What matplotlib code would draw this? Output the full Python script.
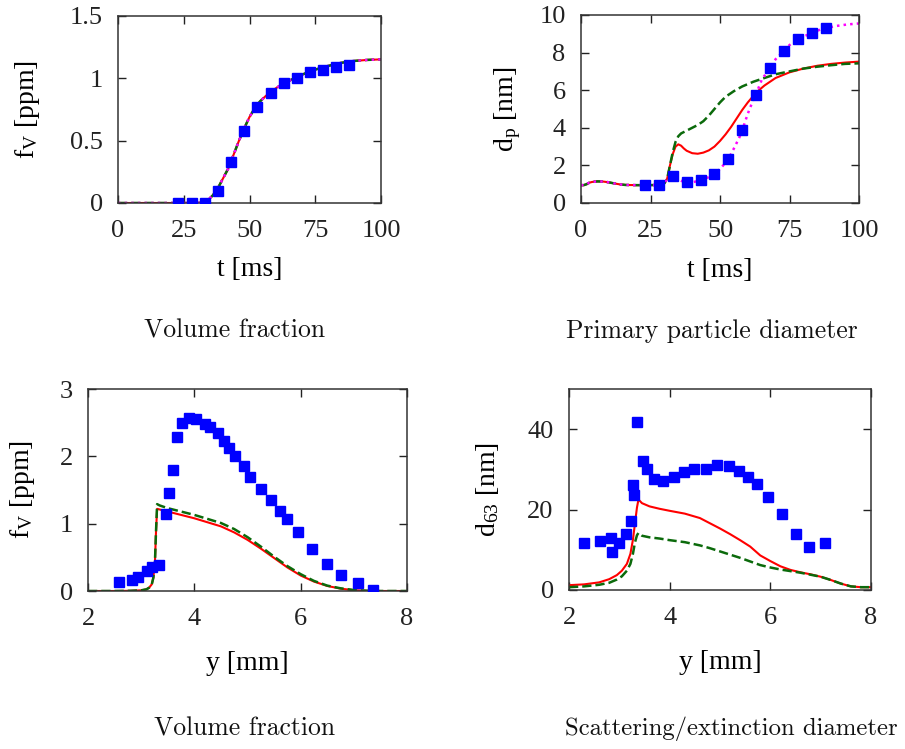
import numpy as np
import matplotlib
matplotlib.use("Agg")
import matplotlib.pyplot as plt

plt.rcParams['font.family'] = ['Liberation Serif', 'DejaVu Serif']
plt.rcParams['mathtext.fontset'] = 'custom'
plt.rcParams['mathtext.rm'] = 'Liberation Serif'
plt.rcParams['mathtext.it'] = 'Liberation Serif:italic'

RED = '#ff0000'
GREEN = '#0b6a0b'
MAGENTA = '#ff00ff'
BLUE = '#0000ff'

# --- volume fraction vs residence time ---
t_exp = [23, 28, 33, 38, 43, 48, 53, 58, 63, 68, 73, 78, 83, 88]
fv_t_exp = [0.0, 0.0, 0.0, 0.1, 0.33, 0.58, 0.77, 0.88, 0.96, 1.0, 1.05, 1.07, 1.09, 1.105]
t_fv_model = [0, 10, 20, 30, 32, 34, 36, 38, 40, 42, 44, 46, 48, 50, 52, 54, 56, 58,
              60, 63, 66, 70, 75, 80, 85, 90, 95, 100]
fv_t_model = [0, 0, 0, 0, 0.003, 0.02, 0.06, 0.12, 0.2, 0.28, 0.39, 0.5, 0.6, 0.69,
              0.76, 0.815, 0.855, 0.89, 0.92, 0.96, 0.99, 1.03, 1.07, 1.10, 1.125,
              1.14, 1.148, 1.152]

# --- primary particle diameter vs residence time ---
dp_exp = [0.95, 0.95, 1.45, 1.1, 1.2, 1.53, 2.33, 3.87, 5.77, 7.19, 8.08, 8.7, 9.02, 9.29]
t_early = [0, 1, 2, 3, 4, 6, 8, 10, 12, 14, 16, 20, 24, 28, 30, 31]
dp_early = [0.95, 0.95, 1.0, 1.08, 1.12, 1.15, 1.14, 1.1, 1.04, 0.99, 0.96, 0.95,
            0.95, 0.96, 1.05, 1.3]
t_dp_green = [32, 33, 34, 35, 36, 38, 40, 42, 44, 46, 48, 50, 52, 55, 58, 62, 66, 70,
              75, 80, 85, 90, 95, 100]
dp_green = [2.0, 2.7, 3.25, 3.55, 3.7, 3.85, 4.0, 4.15, 4.35, 4.65, 5.0, 5.35, 5.65,
            5.95, 6.2, 6.45, 6.65, 6.85, 7.0, 7.15, 7.25, 7.33, 7.4, 7.43]
t_dp_red = [32, 33, 34, 35, 36, 37, 38, 40, 42, 44, 46, 48, 50, 52, 54, 56, 58, 60,
            62, 64, 66, 70, 75, 80, 85, 90, 95, 100]
dp_red = [2.0, 2.6, 3.0, 3.12, 3.05, 2.9, 2.78, 2.65, 2.62, 2.68, 2.8, 3.0, 3.3, 3.65,
          4.05, 4.5, 4.95, 5.35, 5.7, 6.0, 6.25, 6.65, 6.95, 7.15, 7.3, 7.4, 7.47, 7.52]
t_dp_mag = [32, 33, 35, 37, 38, 40, 43, 46, 48, 50, 52, 53, 55, 57, 58, 60, 62, 63,
            65, 68, 70, 73, 75, 78, 80, 83, 86, 88, 92, 96, 100]
dp_mag = [1.42, 1.45, 1.25, 1.12, 1.1, 1.1, 1.2, 1.38, 1.55, 1.8, 2.15, 2.35, 2.9,
          3.5, 3.87, 4.75, 5.5, 5.8, 6.55, 7.2, 7.65, 8.1, 8.4, 8.72, 8.85, 9.04,
          9.22, 9.3, 9.42, 9.5, 9.55]

# --- volume fraction vs height ---
y_fv_exp = [2.58, 2.83, 2.94, 3.11, 3.21, 3.34, 3.47, 3.52, 3.59, 3.67, 3.76, 3.90,
            4.04, 4.21, 4.30, 4.45, 4.55, 4.66, 4.76, 4.93, 5.05, 5.26, 5.45, 5.61,
            5.74, 5.95, 6.22, 6.50, 6.76, 7.08, 7.36]
fv_y_exp = [0.14, 0.17, 0.21, 0.30, 0.35, 0.39, 1.14, 1.45, 1.80, 2.28, 2.50, 2.57,
            2.55, 2.48, 2.43, 2.34, 2.23, 2.13, 2.01, 1.85, 1.70, 1.51, 1.35, 1.19,
            1.07, 0.87, 0.62, 0.40, 0.24, 0.12, 0.015]
y_fv_model = [2.0, 2.5, 2.8, 3.0, 3.1, 3.15, 3.2, 3.23, 3.26, 3.28, 3.3, 3.35, 3.5,
              3.75, 4.0, 4.25, 4.5, 4.75, 5.0, 5.25, 5.5, 5.75, 6.0, 6.25, 6.5, 6.75,
              7.0, 7.25, 7.5, 8.0]
fv_y_red = [0, 0, 0.003, 0.01, 0.025, 0.05, 0.1, 0.2, 0.45, 0.9, 1.22, 1.21, 1.18,
            1.13, 1.08, 1.02, 0.96, 0.87, 0.76, 0.63, 0.49, 0.35, 0.23, 0.14, 0.075,
            0.035, 0.012, 0.003, 0, 0]
fv_y_green = [0, 0, 0.003, 0.01, 0.025, 0.05, 0.1, 0.2, 0.45, 0.9, 1.29, 1.27, 1.23,
              1.18, 1.13, 1.07, 1.01, 0.92, 0.8, 0.66, 0.51, 0.37, 0.25, 0.15, 0.08,
              0.04, 0.015, 0.004, 0, 0]

# --- scattering/extinction diameter vs height ---
y_d63_exp = [2.29, 2.62, 2.83, 2.86, 2.99, 3.13, 3.23, 3.27, 3.29, 3.35, 3.48, 3.54,
             3.68, 3.86, 4.08, 4.29, 4.49, 4.73, 4.94, 5.17, 5.38, 5.55, 5.73, 5.96,
             6.24, 6.50, 6.77, 7.09]
d63_exp = [11.7, 12.1, 13.0, 9.4, 11.6, 13.9, 17.1, 26.2, 23.6, 41.9, 32.0, 30.0,
           27.5, 27.1, 28.1, 29.3, 30.2, 30.2, 31.1, 30.9, 29.6, 28.1, 26.4, 23.1,
           18.8, 13.9, 10.6, 11.6]
y_d63_model = [2.0, 2.3, 2.6, 2.8, 2.95, 3.05, 3.15, 3.22, 3.27, 3.31, 3.35, 3.38,
               3.45, 3.6, 3.8, 4.0, 4.3, 4.6, 4.8, 5.0, 5.2, 5.4, 5.6, 5.8, 6.0, 6.2,
               6.4, 6.6, 6.8, 7.0, 7.2, 7.4, 7.6, 7.8, 8.0]
d63_red = [1.2, 1.4, 1.9, 2.7, 3.7, 4.8, 6.5, 9.0, 12.5, 16.5, 20.5, 22.5, 21.6, 20.8,
           20.2, 19.7, 19.0, 17.9, 16.6, 15.3, 13.9, 12.4, 10.8, 8.6, 7.2, 5.9, 5.0,
           4.4, 3.9, 3.3, 2.5, 1.6, 0.9, 0.7, 0.7]
d63_green = [0.7, 0.9, 1.3, 1.8, 2.6, 3.4, 4.8, 6.5, 9.0, 11.8, 13.6, 14.2, 13.5,
             13.1, 12.8, 12.4, 11.9, 11.1, 10.4, 9.6, 8.8, 8.0, 7.1, 6.2, 5.6, 5.1,
             4.7, 4.3, 3.8, 3.3, 2.5, 1.6, 0.9, 0.7, 0.7]

W, H = 905, 749


def box(left, top, right, bottom):
    return [left / W, 1 - bottom / H, (right - left) / W, (bottom - top) / H]


def style(ax, xlab, ylab, xl_y, yl_x):
    ax.tick_params(direction='in', top=True, right=True, length=6, width=1,
                   labelsize=19, colors='#222222')
    ax.tick_params(axis='x', pad=12)
    ax.tick_params(axis='y', pad=11)
    for s in ax.spines.values():
        s.set_color('#333333')
        s.set_linewidth(1.1)
    ax.set_xlabel(xlab, fontsize=20)
    ax.set_ylabel(ylab, fontsize=20)
    ax.xaxis.set_label_coords(0.5, xl_y)
    ax.yaxis.set_label_coords(yl_x, 0.5)


def squares(ax, x, y):
    ax.plot(x, y, 's', color=BLUE, ms=6.5, mec=BLUE, zorder=5)


fig = plt.figure(figsize=(W / 100, H / 100), dpi=100)

ax1 = fig.add_axes(box(118, 16, 381, 203))
ax1.plot(t_fv_model, fv_t_model, '-', color=RED, lw=1.5)
ax1.plot(t_fv_model, fv_t_model, '--', color=GREEN, lw=1.8)
ax1.plot(t_fv_model, fv_t_model, ':', color=MAGENTA, lw=1.8)
squares(ax1, t_exp, fv_t_exp)
ax1.set_xlim(0, 100)
ax1.set_ylim(0, 1.5)
ax1.set_xticks([0, 25, 50, 75, 100])
ax1.set_yticks([0, 0.5, 1, 1.5])
ax1.set_yticklabels(['0', '0.5', '1', '1.5'])
style(ax1, 't [ms]', r'f$_\mathrm{V}$ [ppm]', -0.29, -0.29)

ax2 = fig.add_axes(box(581, 15, 859, 203))
ax2.plot(t_early + t_dp_red, dp_early + dp_red, '-', color=RED, lw=1.5)
ax2.plot(t_early + t_dp_green, dp_early + dp_green, '--', color=GREEN, lw=1.8)
ax2.plot(t_early + t_dp_mag, dp_early + dp_mag, ':', color=MAGENTA, lw=1.8)
squares(ax2, t_exp, dp_exp)
ax2.set_xlim(0, 100)
ax2.set_ylim(0, 10)
ax2.set_xticks([0, 25, 50, 75, 100])
ax2.set_yticks([0, 2, 4, 6, 8, 10])
style(ax2, 't [ms]', r'd$_\mathrm{p}$ [nm]', -0.29, -0.21)

ax3 = fig.add_axes(box(88, 389, 407, 591))
squares(ax3, y_fv_exp, fv_y_exp)
ax3.plot(y_fv_model, fv_y_red, '-', color=RED, lw=1.5)
ax3.plot(y_fv_model, fv_y_green, '--', color=GREEN, lw=1.8)
ax3.set_xlim(2, 8)
ax3.set_ylim(0, 3)
ax3.set_xticks([2, 4, 6, 8])
ax3.set_yticks([0, 1, 2, 3])
style(ax3, 'y [mm]', r'f$_\mathrm{V}$ [ppm]', -0.295, -0.16)

ax4 = fig.add_axes(box(569, 389, 871, 590))
squares(ax4, y_d63_exp, d63_exp)
ax4.plot(y_d63_model, d63_red, '-', color=RED, lw=1.5)
ax4.plot(y_d63_model, d63_green, '--', color=GREEN, lw=1.8)
ax4.set_xlim(2, 8)
ax4.set_ylim(0, 50)
ax4.set_xticks([2, 4, 6, 8])
ax4.set_yticks([0, 20, 40])
style(ax4, 'y [mm]', r'd$_\mathrm{63}$ [nm]', -0.30, -0.225)

cap = dict(fontsize=18.5, family='cmr10', ha='center', va='center', color='#111111')
fig.text(235 / W, 1 - 331 / H, 'Volume fraction', **cap)
fig.text(712 / W, 1 - 331 / H, 'Primary particle diameter', **cap)
fig.text(245 / W, 1 - 729 / H, 'Volume fraction', **cap)
cap['fontsize'] = 17.8
fig.text(731 / W, 1 - 729 / H, 'Scattering/extinction diameter', **cap)

fig.savefig('out.png', dpi=100)
